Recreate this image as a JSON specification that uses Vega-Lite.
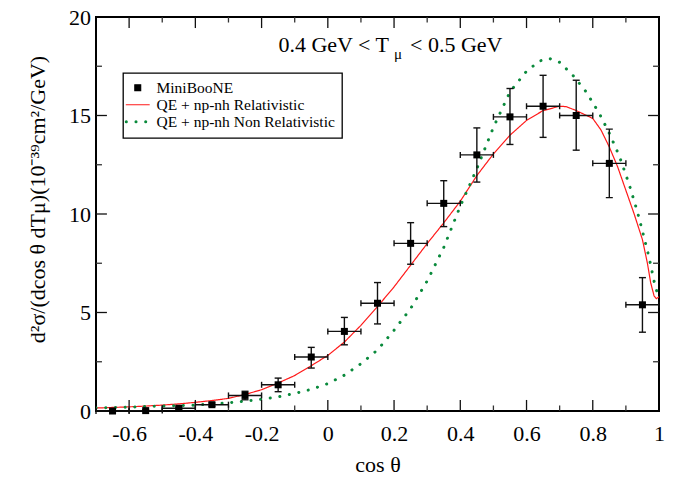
{
  "$schema": "https://vega.github.io/schema/vega-lite/v6.json",
  "width": 563,
  "height": 394,
  "autosize": "none",
  "padding": {"left": 96, "top": 17, "right": 26, "bottom": 66},
  "datasets": {
    "xmajor": [{"v": -0.6}, {"v": -0.4}, {"v": -0.2}, {"v": 0}, {"v": 0.2}, {"v": 0.4}, {"v": 0.6}, {"v": 0.8}],
    "xminor": [{"v": -0.5}, {"v": -0.3}, {"v": -0.1}, {"v": 0.1}, {"v": 0.3}, {"v": 0.5}, {"v": 0.7}, {"v": 0.9}],
    "ymajor": [{"v": 5}, {"v": 10}, {"v": 15}],
    "yminor": [{"v": 2.5}, {"v": 7.5}, {"v": 12.5}, {"v": 17.5}],
    "points": [
      {"cos": -0.65, "y": 0.0, "lo": -0.03, "hi": 0.04, "xlo": -0.7, "xhi": -0.6, "series": "MiniBooNE"},
      {"cos": -0.55, "y": 0.02, "lo": -0.02, "hi": 0.06, "xlo": -0.6, "xhi": -0.5, "series": "MiniBooNE"},
      {"cos": -0.45, "y": 0.14, "lo": 0.09, "hi": 0.2, "xlo": -0.5, "xhi": -0.4, "series": "MiniBooNE"},
      {"cos": -0.35, "y": 0.32, "lo": 0.24, "hi": 0.41, "xlo": -0.4, "xhi": -0.3, "series": "MiniBooNE"},
      {"cos": -0.25, "y": 0.79, "lo": 0.57, "hi": 1.0, "xlo": -0.3, "xhi": -0.2, "series": "MiniBooNE"},
      {"cos": -0.15, "y": 1.33, "lo": 0.98, "hi": 1.67, "xlo": -0.2, "xhi": -0.1, "series": "MiniBooNE"},
      {"cos": -0.05, "y": 2.74, "lo": 2.18, "hi": 3.23, "xlo": -0.1, "xhi": 0.0, "series": "MiniBooNE"},
      {"cos": 0.05, "y": 4.04, "lo": 3.36, "hi": 4.75, "xlo": 0.0, "xhi": 0.1, "series": "MiniBooNE"},
      {"cos": 0.15, "y": 5.47, "lo": 4.42, "hi": 6.52, "xlo": 0.1, "xhi": 0.2, "series": "MiniBooNE"},
      {"cos": 0.25, "y": 8.51, "lo": 7.45, "hi": 9.56, "xlo": 0.2, "xhi": 0.3, "series": "MiniBooNE"},
      {"cos": 0.35, "y": 10.54, "lo": 9.36, "hi": 11.69, "xlo": 0.3, "xhi": 0.4, "series": "MiniBooNE"},
      {"cos": 0.45, "y": 13.0, "lo": 11.62, "hi": 14.37, "xlo": 0.4, "xhi": 0.5, "series": "MiniBooNE"},
      {"cos": 0.55, "y": 14.93, "lo": 13.53, "hi": 16.37, "xlo": 0.5, "xhi": 0.6, "series": "MiniBooNE"},
      {"cos": 0.65, "y": 15.47, "lo": 13.89, "hi": 17.04, "xlo": 0.6, "xhi": 0.7, "series": "MiniBooNE"},
      {"cos": 0.75, "y": 15.0, "lo": 13.24, "hi": 16.79, "xlo": 0.7, "xhi": 0.8, "series": "MiniBooNE"},
      {"cos": 0.85, "y": 12.57, "lo": 10.83, "hi": 14.31, "xlo": 0.8, "xhi": 0.9, "series": "MiniBooNE"},
      {"cos": 0.95, "y": 5.39, "lo": 4.0, "hi": 6.77, "xlo": 0.9, "xhi": 1.0, "series": "MiniBooNE"}
    ],
    "rel": [
      {"cos": -0.7, "y": 0.15, "series": "QE + np-nh Relativistic"},
      {"cos": -0.65, "y": 0.18, "series": "QE + np-nh Relativistic"},
      {"cos": -0.6, "y": 0.21, "series": "QE + np-nh Relativistic"},
      {"cos": -0.55, "y": 0.25, "series": "QE + np-nh Relativistic"},
      {"cos": -0.5, "y": 0.3, "series": "QE + np-nh Relativistic"},
      {"cos": -0.45, "y": 0.36, "series": "QE + np-nh Relativistic"},
      {"cos": -0.4, "y": 0.44, "series": "QE + np-nh Relativistic"},
      {"cos": -0.35, "y": 0.53, "series": "QE + np-nh Relativistic"},
      {"cos": -0.3, "y": 0.64, "series": "QE + np-nh Relativistic"},
      {"cos": -0.25, "y": 0.84, "series": "QE + np-nh Relativistic"},
      {"cos": -0.2, "y": 1.08, "series": "QE + np-nh Relativistic"},
      {"cos": -0.15, "y": 1.42, "series": "QE + np-nh Relativistic"},
      {"cos": -0.1, "y": 1.8, "series": "QE + np-nh Relativistic"},
      {"cos": -0.05, "y": 2.3, "series": "QE + np-nh Relativistic"},
      {"cos": 0.0, "y": 2.82, "series": "QE + np-nh Relativistic"},
      {"cos": 0.05, "y": 3.5, "series": "QE + np-nh Relativistic"},
      {"cos": 0.1, "y": 4.35, "series": "QE + np-nh Relativistic"},
      {"cos": 0.15, "y": 5.3, "series": "QE + np-nh Relativistic"},
      {"cos": 0.2, "y": 6.3, "series": "QE + np-nh Relativistic"},
      {"cos": 0.25, "y": 7.4, "series": "QE + np-nh Relativistic"},
      {"cos": 0.3, "y": 8.5, "series": "QE + np-nh Relativistic"},
      {"cos": 0.35, "y": 9.55, "series": "QE + np-nh Relativistic"},
      {"cos": 0.4, "y": 10.65, "series": "QE + np-nh Relativistic"},
      {"cos": 0.45, "y": 11.95, "series": "QE + np-nh Relativistic"},
      {"cos": 0.5, "y": 13.05, "series": "QE + np-nh Relativistic"},
      {"cos": 0.55, "y": 14.0, "series": "QE + np-nh Relativistic"},
      {"cos": 0.6, "y": 14.75, "series": "QE + np-nh Relativistic"},
      {"cos": 0.65, "y": 15.25, "series": "QE + np-nh Relativistic"},
      {"cos": 0.7, "y": 15.47, "series": "QE + np-nh Relativistic"},
      {"cos": 0.72, "y": 15.45, "series": "QE + np-nh Relativistic"},
      {"cos": 0.75, "y": 15.25, "series": "QE + np-nh Relativistic"},
      {"cos": 0.8, "y": 14.85, "series": "QE + np-nh Relativistic"},
      {"cos": 0.825, "y": 14.26, "series": "QE + np-nh Relativistic"},
      {"cos": 0.85, "y": 13.4, "series": "QE + np-nh Relativistic"},
      {"cos": 0.875, "y": 12.4, "series": "QE + np-nh Relativistic"},
      {"cos": 0.9, "y": 11.2, "series": "QE + np-nh Relativistic"},
      {"cos": 0.925, "y": 10.0, "series": "QE + np-nh Relativistic"},
      {"cos": 0.95, "y": 8.7, "series": "QE + np-nh Relativistic"},
      {"cos": 0.965, "y": 7.5, "series": "QE + np-nh Relativistic"},
      {"cos": 0.975, "y": 6.5, "series": "QE + np-nh Relativistic"},
      {"cos": 0.985, "y": 5.85, "series": "QE + np-nh Relativistic"},
      {"cos": 0.992, "y": 5.7, "series": "QE + np-nh Relativistic"},
      {"cos": 1.0, "y": 5.8, "series": "QE + np-nh Relativistic"}
    ],
    "nonrel": [
      {"cos": -0.7, "y": 0.15, "series": "QE + np-nh Non Relativistic"},
      {"cos": -0.6, "y": 0.2, "series": "QE + np-nh Non Relativistic"},
      {"cos": -0.5, "y": 0.25, "series": "QE + np-nh Non Relativistic"},
      {"cos": -0.4, "y": 0.3, "series": "QE + np-nh Non Relativistic"},
      {"cos": -0.3, "y": 0.42, "series": "QE + np-nh Non Relativistic"},
      {"cos": -0.25, "y": 0.5, "series": "QE + np-nh Non Relativistic"},
      {"cos": -0.2, "y": 0.6, "series": "QE + np-nh Non Relativistic"},
      {"cos": -0.15, "y": 0.72, "series": "QE + np-nh Non Relativistic"},
      {"cos": -0.1, "y": 0.89, "series": "QE + np-nh Non Relativistic"},
      {"cos": -0.05, "y": 1.1, "series": "QE + np-nh Non Relativistic"},
      {"cos": 0.0, "y": 1.39, "series": "QE + np-nh Non Relativistic"},
      {"cos": 0.05, "y": 1.82, "series": "QE + np-nh Non Relativistic"},
      {"cos": 0.1, "y": 2.4, "series": "QE + np-nh Non Relativistic"},
      {"cos": 0.15, "y": 3.1, "series": "QE + np-nh Non Relativistic"},
      {"cos": 0.2, "y": 4.1, "series": "QE + np-nh Non Relativistic"},
      {"cos": 0.25, "y": 5.2, "series": "QE + np-nh Non Relativistic"},
      {"cos": 0.3, "y": 6.6, "series": "QE + np-nh Non Relativistic"},
      {"cos": 0.35, "y": 8.3, "series": "QE + np-nh Non Relativistic"},
      {"cos": 0.4, "y": 10.4, "series": "QE + np-nh Non Relativistic"},
      {"cos": 0.45, "y": 12.3, "series": "QE + np-nh Non Relativistic"},
      {"cos": 0.5, "y": 14.4, "series": "QE + np-nh Non Relativistic"},
      {"cos": 0.55, "y": 16.2, "series": "QE + np-nh Non Relativistic"},
      {"cos": 0.6, "y": 17.25, "series": "QE + np-nh Non Relativistic"},
      {"cos": 0.64, "y": 17.77, "series": "QE + np-nh Non Relativistic"},
      {"cos": 0.67, "y": 17.89, "series": "QE + np-nh Non Relativistic"},
      {"cos": 0.7, "y": 17.7, "series": "QE + np-nh Non Relativistic"},
      {"cos": 0.74, "y": 17.04, "series": "QE + np-nh Non Relativistic"},
      {"cos": 0.78, "y": 16.2, "series": "QE + np-nh Non Relativistic"},
      {"cos": 0.82, "y": 15.1, "series": "QE + np-nh Non Relativistic"},
      {"cos": 0.85, "y": 14.1, "series": "QE + np-nh Non Relativistic"},
      {"cos": 0.88, "y": 12.95, "series": "QE + np-nh Non Relativistic"},
      {"cos": 0.91, "y": 11.5, "series": "QE + np-nh Non Relativistic"},
      {"cos": 0.935, "y": 10.1, "series": "QE + np-nh Non Relativistic"},
      {"cos": 0.955, "y": 8.8, "series": "QE + np-nh Non Relativistic"},
      {"cos": 0.97, "y": 7.8, "series": "QE + np-nh Non Relativistic"},
      {"cos": 0.98, "y": 7.0, "series": "QE + np-nh Non Relativistic"},
      {"cos": 0.99, "y": 6.2, "series": "QE + np-nh Non Relativistic"},
      {"cos": 1.0, "y": 5.9, "series": "QE + np-nh Non Relativistic"}
    ]
  },
  "layer": [
    {
      "data": {"name": "rel"},
      "mark": {"type": "line", "strokeWidth": 1.2, "clip": true},
      "encoding": {
        "x": {"field": "cos", "type": "quantitative", "scale": {"domain": [-0.7, 1], "nice": false, "zero": false},
          "axis": {"orient": "bottom", "values": [-0.6, -0.4, -0.2, 0, 0.2, 0.4, 0.6, 0.8, 1], "ticks": false, "labelPadding": 12, "labelFlush": false, "labelOverlap": false, "labelExpr": "replace(format(datum.value, '~g'), '\u2212', '-')", "title": "cos θ", "titlePadding": 10}},
        "y": {"field": "y", "type": "quantitative", "scale": {"domain": [0, 20], "nice": false, "zero": false},
          "axis": {"orient": "left", "values": [0, 5, 10, 15, 20], "ticks": false, "labelPadding": 5.5, "labelFlush": false, "labelOverlap": false, "format": "~g", "title": "d²σ/(dcos θ dTμ)(10⁻³⁹cm²/GeV)", "titlePadding": 19, "titleY": 182}},
        "color": {"field": "series", "type": "nominal",
          "scale": {"domain": ["MiniBooNE", "QE + np-nh Relativistic", "QE + np-nh Non Relativistic"], "range": ["black", "#ff1a1a", "#0a8a3c"]},
          "legend": {"orient": "none", "legendX": 27, "legendY": 56, "title": null, "symbolSize": 529,
            "encode": {"symbols": {"update": {
              "size": {"signal": "datum.label === 'MiniBooNE' ? 34 : 529"},
              "strokeWidth": {"signal": "datum.label === 'QE + np-nh Non Relativistic' ? 3 : 1.2"},
              "strokeCap": {"value": "round"}
            }}}}},
        "strokeDash": {"field": "series", "type": "nominal",
          "scale": {"domain": ["MiniBooNE", "QE + np-nh Relativistic", "QE + np-nh Non Relativistic"], "range": [[1, 0], [1, 0], [0.1, 9.6]]}}
      }
    },
    {
      "data": {"name": "nonrel"},
      "mark": {"type": "line", "strokeWidth": 3, "strokeCap": "round", "clip": true},
      "encoding": {
        "x": {"field": "cos", "type": "quantitative"},
        "y": {"field": "y", "type": "quantitative"},
        "color": {"field": "series", "type": "nominal",
          "scale": {"domain": ["MiniBooNE", "QE + np-nh Relativistic", "QE + np-nh Non Relativistic"], "range": ["black", "#ff1a1a", "#0a8a3c"]}},
        "strokeDash": {"field": "series", "type": "nominal",
          "scale": {"domain": ["MiniBooNE", "QE + np-nh Relativistic", "QE + np-nh Non Relativistic"], "range": [[1, 0], [1, 0], [0.1, 9.6]]}}
      }
    },
    {
      "data": {"name": "xmajor"},
      "mark": {"type": "rule", "strokeWidth": 1.3, "color": "#111"},
      "encoding": {"x": {"field": "v", "type": "quantitative"}, "y": {"datum": 0, "type": "quantitative"}, "y2": {"datum": 0.56}}
    },
    {
      "data": {"name": "xmajor"},
      "mark": {"type": "rule", "strokeWidth": 1.3, "color": "#111"},
      "encoding": {"x": {"field": "v", "type": "quantitative"}, "y": {"datum": 20, "type": "quantitative"}, "y2": {"datum": 19.44}}
    },
    {
      "data": {"name": "xminor"},
      "mark": {"type": "rule", "strokeWidth": 1.3, "color": "#333"},
      "encoding": {"x": {"field": "v", "type": "quantitative"}, "y": {"datum": 0, "type": "quantitative"}, "y2": {"datum": 0.28}}
    },
    {
      "data": {"name": "xminor"},
      "mark": {"type": "rule", "strokeWidth": 1.3, "color": "#333"},
      "encoding": {"x": {"field": "v", "type": "quantitative"}, "y": {"datum": 20, "type": "quantitative"}, "y2": {"datum": 19.72}}
    },
    {
      "data": {"name": "ymajor"},
      "mark": {"type": "rule", "strokeWidth": 1.3, "color": "#111"},
      "encoding": {"y": {"field": "v", "type": "quantitative"}, "x": {"datum": -0.7, "type": "quantitative"}, "x2": {"datum": -0.667}}
    },
    {
      "data": {"name": "ymajor"},
      "mark": {"type": "rule", "strokeWidth": 1.3, "color": "#111"},
      "encoding": {"y": {"field": "v", "type": "quantitative"}, "x": {"datum": 1, "type": "quantitative"}, "x2": {"datum": 0.967}}
    },
    {
      "data": {"name": "yminor"},
      "mark": {"type": "rule", "strokeWidth": 1.3, "color": "#333"},
      "encoding": {"y": {"field": "v", "type": "quantitative"}, "x": {"datum": -0.7, "type": "quantitative"}, "x2": {"datum": -0.682}}
    },
    {
      "data": {"name": "yminor"},
      "mark": {"type": "rule", "strokeWidth": 1.3, "color": "#333"},
      "encoding": {"y": {"field": "v", "type": "quantitative"}, "x": {"datum": 1, "type": "quantitative"}, "x2": {"datum": 0.982}}
    },
    {
      "data": {"name": "points"},
      "mark": {"type": "rule", "color": "#111", "strokeWidth": 1.4},
      "encoding": {
        "x": {"field": "cos", "type": "quantitative"},
        "y": {"field": "lo", "type": "quantitative"},
        "y2": {"field": "hi"}
      }
    },
    {
      "data": {"name": "points"},
      "mark": {"type": "rule", "color": "#111", "strokeWidth": 1.4},
      "encoding": {
        "x": {"field": "xlo", "type": "quantitative"},
        "x2": {"field": "xhi"},
        "y": {"field": "y", "type": "quantitative"}
      }
    },
    {
      "data": {"name": "points"},
      "mark": {"type": "tick", "orient": "horizontal", "size": 7, "thickness": 1.4, "color": "#111", "opacity": 1},
      "encoding": {
        "x": {"field": "cos", "type": "quantitative"},
        "y": {"field": "lo", "type": "quantitative"}
      }
    },
    {
      "data": {"name": "points"},
      "mark": {"type": "tick", "orient": "horizontal", "size": 7, "thickness": 1.4, "color": "#111", "opacity": 1},
      "encoding": {
        "x": {"field": "cos", "type": "quantitative"},
        "y": {"field": "hi", "type": "quantitative"}
      }
    },
    {
      "data": {"name": "points"},
      "mark": {"type": "tick", "orient": "vertical", "size": 6, "thickness": 1.4, "color": "#111", "opacity": 1},
      "encoding": {
        "x": {"field": "xlo", "type": "quantitative"},
        "y": {"field": "y", "type": "quantitative"}
      }
    },
    {
      "data": {"name": "points"},
      "mark": {"type": "tick", "orient": "vertical", "size": 6, "thickness": 1.4, "color": "#111", "opacity": 1},
      "encoding": {
        "x": {"field": "xhi", "type": "quantitative"},
        "y": {"field": "y", "type": "quantitative"}
      }
    },
    {
      "data": {"name": "points"},
      "mark": {"type": "point", "filled": true, "size": 49, "opacity": 1},
      "encoding": {
        "x": {"field": "cos", "type": "quantitative"},
        "y": {"field": "y", "type": "quantitative"},
        "color": {"field": "series", "type": "nominal",
          "scale": {"domain": ["MiniBooNE", "QE + np-nh Relativistic", "QE + np-nh Non Relativistic"], "range": ["black", "#ff1a1a", "#0a8a3c"]}},
        "shape": {"field": "series", "type": "nominal",
          "scale": {"domain": ["MiniBooNE", "QE + np-nh Relativistic", "QE + np-nh Non Relativistic"], "range": ["square", "stroke", "stroke"]}}
      }
    },
    {
      "data": {"values": [{}]},
      "mark": {"type": "text", "align": "right", "baseline": "alphabetic", "font": "Liberation Serif", "fontSize": 22, "dx": -5, "color": "black"},
      "encoding": {
        "x": {"datum": 0.2, "type": "quantitative"},
        "y": {"datum": 18.23, "type": "quantitative"},
        "text": {"value": "0.4 GeV < T"}
      }
    },
    {
      "data": {"values": [{}]},
      "mark": {"type": "text", "align": "left", "baseline": "alphabetic", "font": "Liberation Serif", "fontSize": 15, "dx": 0, "dy": 7, "color": "black"},
      "encoding": {
        "x": {"datum": 0.2, "type": "quantitative"},
        "y": {"datum": 18.23, "type": "quantitative"},
        "text": {"value": "μ"}
      }
    },
    {
      "data": {"values": [{}]},
      "mark": {"type": "text", "align": "left", "baseline": "alphabetic", "font": "Liberation Serif", "fontSize": 22, "dx": 16, "color": "black"},
      "encoding": {
        "x": {"datum": 0.2, "type": "quantitative"},
        "y": {"datum": 18.23, "type": "quantitative"},
        "text": {"value": "< 0.5 GeV"}
      }
    }
  ],
  "config": {
    "view": {"stroke": "black", "strokeWidth": 2},
    "background": "white",
    "axis": {"grid": false, "domain": false,
      "labelFont": "Liberation Serif", "labelFontSize": 22, "labelColor": "black",
      "titleFont": "Liberation Serif", "titleFontSize": 22, "titleFontWeight": "normal", "titleColor": "black"},
    "legend": {"strokeColor": "black", "strokeWidth": 1.3, "fillColor": "white", "padding": 7, "cornerRadius": 0,
      "labelFont": "Liberation Serif", "labelFontSize": 15.5, "labelColor": "black", "labelOffset": 11, "labelLimit": 0,
      "rowPadding": 0, "symbolSize": 529, "symbolStrokeWidth": 1.2, "symbolOpacity": 1}
  }
}
